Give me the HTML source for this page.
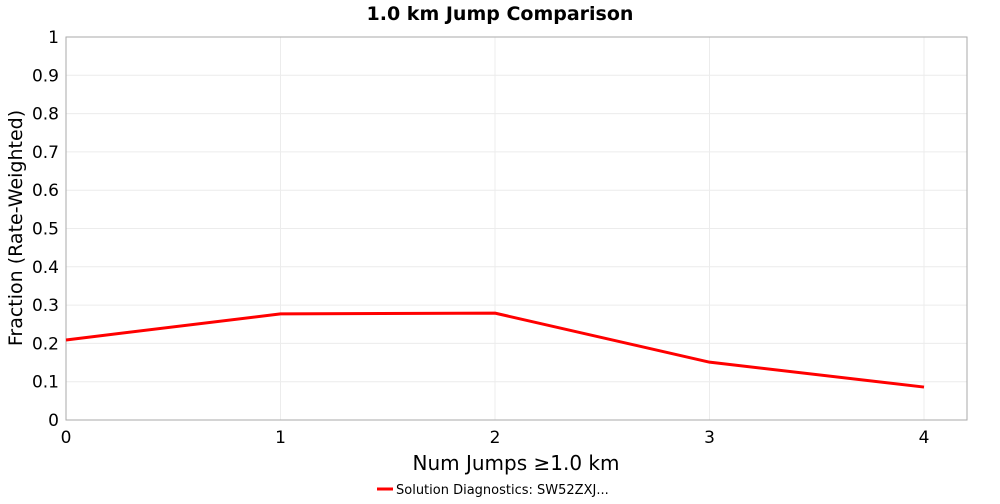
<!DOCTYPE html>
<html><head><meta charset="utf-8"><style>
body{margin:0;background:#fff;font-family:"DejaVu Sans","Liberation Sans",sans-serif;}
</style></head><body>
<svg id="chart" width="1000" height="500" xmlns="http://www.w3.org/2000/svg">
<text x="500" y="20" text-anchor="middle" font-size="19" font-weight="bold" font-family="DejaVu Sans, sans-serif">1.0 km Jump Comparison</text>
<g id="grid"></g>
<rect x="66" y="37" width="901" height="383" fill="none" stroke="#aaa"/>
<g id="axes"></g><g id="series"></g>
<text transform="translate(22,228) rotate(-90)" text-anchor="middle" font-size="19">Fraction (Rate-Weighted)</text>
<text x="516" y="470" text-anchor="middle" font-size="20">Num Jumps ≥1.0 km</text>
<g>
<line x1="377" y1="489" x2="393" y2="489" stroke="#f00" stroke-width="3"/>
<text x="396" y="494" font-size="13">Solution Diagnostics: SW52ZXJ...</text>
</g>
</svg>
<script>
const categories=[0,1,2,3,4];
const values=[0.209,0.277,0.279,0.151,0.086];
const yTicks=[0,0.1,0.2,0.3,0.4,0.5,0.6,0.7,0.8,0.9,1];
const yTickLabels=["0","0.1","0.2","0.3","0.4","0.5","0.6","0.7","0.8","0.9","1"];
const NS="http://www.w3.org/2000/svg";
const L=66,R=967,T=37,B=420;
const xs=v=>L+v*(924-66)/4;
const ys=v=>B-v*(B-T);
const grid=document.getElementById('grid'),axes=document.getElementById('axes'),ser=document.getElementById('series');
function mk(tag,attrs,parent){const e=document.createElementNS(NS,tag);for(const k in attrs)e.setAttribute(k,attrs[k]);parent.appendChild(e);return e;}
yTicks.forEach((t,i)=>{
 const g=mk('line',{x1:L,x2:R,y1:ys(t),y2:ys(t),stroke:'#ececec'},grid);
 
 
 const tx=mk('text',{x:L-7,y:ys(t)+6,'text-anchor':'end','font-size':17},axes);
 tx.textContent=yTickLabels[i];
 
 
});
categories.forEach(c=>{
 const g=mk('line',{x1:xs(c),x2:xs(c),y1:T,y2:B,stroke:'#ececec'},grid);
 
 
 const tx=mk('text',{x:xs(c),y:B+23,'text-anchor':'middle','font-size':17},axes);
 tx.textContent=String(c);
 
 
});
const pts=categories.map((c,i)=>xs(c)+','+ys(values[i])).join(' ');
const pl=mk('polyline',{points:pts,fill:'none',stroke:'#f00','stroke-width':3,'stroke-linejoin':'round'},ser);


</script>
</body></html>
